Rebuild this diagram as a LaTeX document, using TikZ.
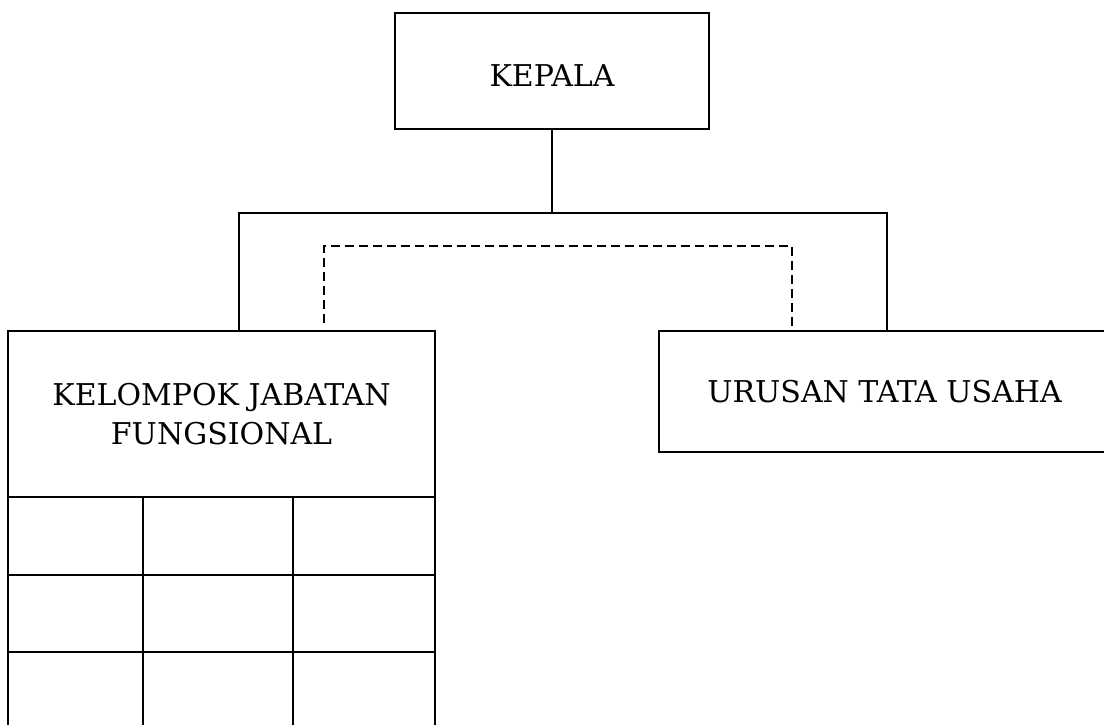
\documentclass[tikz,border=0pt]{standalone}
\usepackage{fontspec}
\setmainfont{DejaVu Serif}
\begin{document}
\begin{tikzpicture}[x=1pt,y=-1pt,
  box/.style={draw, line width=1.8pt, inner sep=0pt, align=center,
    font=\fontsize{30}{39}\selectfont},
  conn/.style={line width=1.8pt},
  dashconn/.style={line width=1.8pt, dash pattern=on 9pt off 5pt},
  gridline/.style={line width=1.8pt}]
\useasboundingbox (0,0) rectangle (1104,724);
\clip (0,0) rectangle (1104,724);
\node[box, minimum width=314pt, minimum height=116pt, text height=30pt] (kepala) at (552,71) {KEPALA};
\node[box, minimum width=427pt, minimum height=166pt] (kjf) at (221.5,414) {KELOMPOK JABATAN\\FUNGSIONAL};
\node[box, minimum width=451pt, minimum height=121pt] (tu) at (884.5,391.5) {URUSAN TATA USAHA};
% grid under the functional group box
\draw[gridline] (8,497) rectangle (435,729);
\draw[gridline] (8,575) -- (435,575) (8,652) -- (435,652);
\draw[gridline] (143,497) -- (143,729) (293,497) -- (293,729);
% connectors
\coordinate (busL) at (239,213);
\coordinate (busR) at (887,213);
\coordinate (dL) at (324,246);
\coordinate (dR) at (792,246);
\draw[conn] (kepala.south) -- (kepala.south |- busL);
\draw[conn] (kjf.north -| busL) -- (busL) -- (busR) -- (tu.north -| busR);
\draw[dashconn, shorten <=7pt, shorten >=4pt] (kjf.north -| dL) -- (dL) -- (dR) -- (tu.north -| dR);
\end{tikzpicture}
\end{document}
